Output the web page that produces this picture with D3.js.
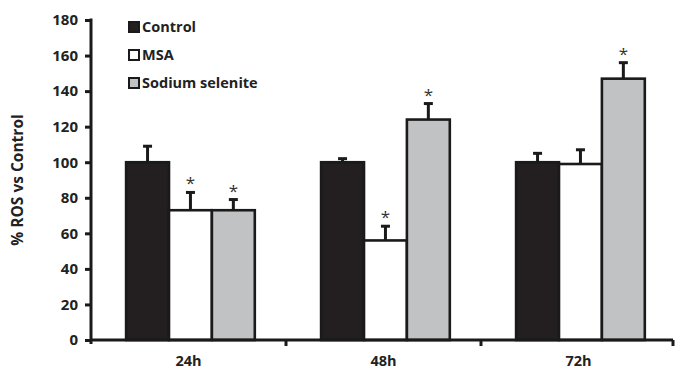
<!DOCTYPE html>
<html>
<head>
<meta charset="utf-8">
<script src="https://cdn.jsdelivr.net/npm/d3@7"></script>
<style>
  body { margin: 0; background: #fff; }
  svg { display: block; font-family: "Open Sans", sans-serif; }
</style>
</head>
<body>
<div id="vis"></div>
<script>
// chart data
const categories = ["24h", "48h", "72h"];
const series = ["Control", "MSA", "Sodium selenite"];
const controlValues = [100, 100, 100];
const msaValues = [73, 56, 99];
const seleniteValues = [73, 124, 147];
const controlErr = [9, 2, 5];
const msaErr = [10, 8, 8];
const seleniteErr = [6, 9, 9];
const msaSig = [true, true, false];
const seleniteSig = [true, true, true];
const yTicks = [0, 20, 40, 60, 80, 100, 120, 140, 160, 180];

const colors = { "Control": "#231f20", "MSA": "#ffffff", "Sodium selenite": "#c1c2c4" };

const width = 675, height = 373;
const margin = { top: 20, right: -1, bottom: 33, left: 91 };

const svg = d3.select("#vis")
    .append("svg")
    .attr("width", width)
    .attr("height", height);

const x0 = d3.scaleBand()
    .domain(categories)
    .range([margin.left, width - margin.right])
    .padding(0);

const x1 = d3.scaleBand()
    .domain(series)
    .range([x0.bandwidth() * 0.18, x0.bandwidth() * 0.84])
    .padding(0);

const y = d3.scaleLinear()
    .domain([0, 180])
    .range([height - margin.bottom, margin.top]);

// build rows per category
const rows = [];
categories.forEach((c, i) => {
    rows.push({ cat: c, s: "Control", v: controlValues[i], e: controlErr[i], sig: false });
    rows.push({ cat: c, s: "MSA", v: msaValues[i], e: msaErr[i], sig: msaSig[i] });
    rows.push({ cat: c, s: "Sodium selenite", v: seleniteValues[i], e: seleniteErr[i], sig: seleniteSig[i] });
});

// bars
svg.append("g")
    .selectAll("rect")
    .data(rows)
    .enter()
    .append("rect")
    .attr("x", d => x0(d.cat) + x1(d.s))
    .attr("y", d => y(d.v))
    .attr("width", x1.bandwidth())
    .attr("height", d => y(0) - y(d.v))
    .attr("fill", d => colors[d.s])
    .attr("stroke", "#1a1a1a")
    .attr("stroke-width", 2.6);

// error bars (upper only)
const err = svg.append("g").attr("stroke", "#1a1a1a");
err.selectAll("line.v")
    .data(rows)
    .enter()
    .append("line")
    .attr("class", "v")
    .attr("x1", d => x0(d.cat) + x1(d.s) + x1.bandwidth() / 2)
    .attr("x2", d => x0(d.cat) + x1(d.s) + x1.bandwidth() / 2)
    .attr("y1", d => y(d.v))
    .attr("y2", d => y(d.v + d.e))
    .attr("stroke-width", 3);
err.selectAll("line.cap")
    .data(rows)
    .enter()
    .append("line")
    .attr("class", "cap")
    .attr("x1", d => x0(d.cat) + x1(d.s) + x1.bandwidth() / 2 - 4.5)
    .attr("x2", d => x0(d.cat) + x1(d.s) + x1.bandwidth() / 2 + 4.5)
    .attr("y1", d => y(d.v + d.e))
    .attr("y2", d => y(d.v + d.e))
    .attr("stroke-width", 3);

// significance asterisks
svg.append("g")
    .selectAll("text")
    .data(rows.filter(d => d.sig))
    .enter()
    .append("text")
    .attr("x", d => x0(d.cat) + x1(d.s) + x1.bandwidth() / 2)
    .attr("y", d => y(d.v + d.e) - 3)
    .attr("text-anchor", "middle")
    .attr("font-size", 17)
    .attr("fill", "#333")
    .text("*");

// y axis
const yAxis = svg.append("g")
    .attr("transform", "translate(" + margin.left + ",0)")
    .call(d3.axisLeft(y).tickValues(yTicks).tickSize(6).tickSizeOuter(0).tickPadding(7));
yAxis.select(".domain").attr("stroke", "#1a1a1a").attr("stroke-width", 3)
    .attr("d", "M0," + (y(180) - 1.5) + "V" + (y(0) + 4));
yAxis.selectAll(".tick line").attr("stroke", "#1a1a1a").attr("stroke-width", 3);
yAxis.selectAll(".tick text")
    .attr("font-family", "Open Sans")
    .attr("font-weight", "bold")
    .attr("font-size", 15)
    .attr("fill", "#222");

// x axis
const xAxis = svg.append("g")
    .attr("transform", "translate(0," + y(0) + ")")
    .call(d3.axisBottom(x0).tickSize(0).tickPadding(16));
xAxis.select(".domain").attr("stroke", "#1a1a1a").attr("stroke-width", 3)
    .attr("d", "M" + margin.left + ",0H" + (width - 2));
xAxis.selectAll(".tick text")
    .attr("font-family", "Open Sans")
    .attr("font-weight", "bold")
    .attr("font-size", 14.5)
    .attr("fill", "#222");
// boundary ticks between categories
xAxis.selectAll("line.bound")
    .data(categories)
    .enter()
    .append("line")
    .attr("class", "bound")
    .attr("x1", d => Math.min(x0(d) + x0.bandwidth(), width - 2))
    .attr("x2", d => Math.min(x0(d) + x0.bandwidth(), width - 2))
    .attr("y1", 0)
    .attr("y2", 6)
    .attr("stroke", "#1a1a1a")
    .attr("stroke-width", 3);

// y axis label
svg.append("text")
    .attr("transform", "translate(23," + ((y(0) + y(180)) / 2) + ") rotate(-90)")
    .attr("text-anchor", "middle")
    .attr("font-weight", "bold")
    .attr("font-size", 15.5)
    .attr("fill", "#222")
    .text("% ROS vs Control");

// legend
const legend = svg.append("g")
    .selectAll("g")
    .data(series)
    .enter()
    .append("g")
    .attr("transform", (d, i) => "translate(128," + (21 + i * 28) + ")");
legend.append("rect")
    .attr("x", 1)
    .attr("y", 1)
    .attr("width", 10)
    .attr("height", 10)
    .attr("fill", d => colors[d])
    .attr("stroke", "#1a1a1a")
    .attr("stroke-width", 2);
legend.append("text")
    .attr("x", 14)
    .attr("y", 11)
    .attr("font-weight", "bold")
    .attr("font-size", 14.5)
    .attr("fill", "#222")
    .text(d => d);
</script>
</body>
</html>
